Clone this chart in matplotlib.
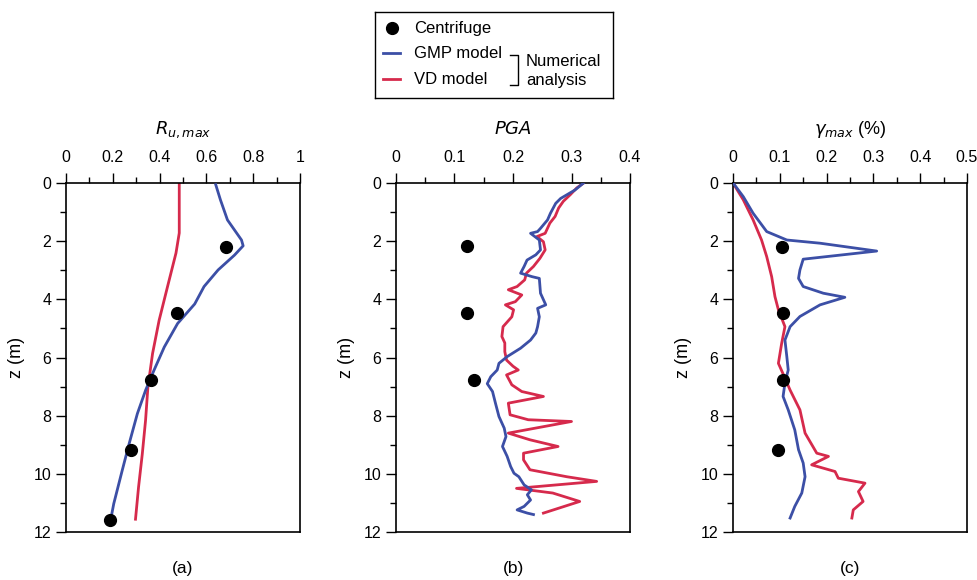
import matplotlib
matplotlib.use("Agg")
import matplotlib.pyplot as plt
from matplotlib.ticker import MultipleLocator

plt.rcParams['font.family'] = ['Liberation Sans', 'DejaVu Sans']

BLUE = '#3c4fa6'
RED = '#d62a4c'

# ---------------- Panel (a): Ru,max ----------------
a_gmp_x = [0.64, 0.66, 0.69, 0.75, 0.757, 0.72, 0.65, 0.59, 0.55, 0.477, 0.42, 0.376, 0.34, 0.305, 0.27, 0.24, 0.204, 0.19]
a_gmp_z = [0.06, 0.58, 1.27, 1.96, 2.16, 2.48, 2.99, 3.56, 4.16, 4.83, 5.64, 6.44, 7.13, 7.93, 8.96, 9.89, 11.03, 11.62]
a_vd_x = [0.484, 0.484, 0.47, 0.434, 0.398, 0.37, 0.35, 0.34, 0.326, 0.31, 0.297]
a_vd_z = [0.01, 1.72, 2.41, 3.56, 4.72, 5.86, 7.02, 8.16, 9.32, 10.46, 11.56]
a_cf_x = [0.685, 0.474, 0.362, 0.276, 0.187]
a_cf_z = [2.19, 4.48, 6.77, 9.18, 11.58]

# ---------------- Panel (b): PGA ----------------
b_gmp_x = [0.320, 0.306, 0.2815, 0.273, 0.264, 0.259, 0.247, 0.242, 0.230, 0.245, 0.247, 0.239,
           0.224, 0.219, 0.213, 0.2325, 0.245, 0.247, 0.256, 0.242, 0.245, 0.242, 0.239, 0.230,
           0.213, 0.190, 0.176, 0.173, 0.162, 0.156, 0.165, 0.170, 0.176, 0.185, 0.188, 0.182,
           0.190, 0.196, 0.2017, 0.210, 0.219, 0.2315, 0.2245, 0.230, 0.219, 0.207, 0.2245, 0.235]
b_gmp_z = [0.01, 0.24, 0.53, 0.70, 1.04, 1.27, 1.56, 1.67, 1.73, 1.96, 2.30, 2.47,
           2.65, 2.87, 3.10, 3.22, 3.28, 3.79, 4.19, 4.31, 4.60, 4.94, 5.16, 5.40,
           5.68, 5.97, 6.20, 6.43, 6.66, 6.90, 7.17, 7.57, 8.03, 8.43, 8.72, 9.06,
           9.40, 9.75, 9.98, 10.10, 10.38, 10.55, 10.72, 10.90, 11.12, 11.24, 11.35, 11.40]
b_vd_x = [0.320, 0.309, 0.298, 0.286, 0.278, 0.272, 0.263, 0.255, 0.241, 0.252, 0.255, 0.246,
          0.235, 0.223, 0.220, 0.207, 0.192, 0.215, 0.204, 0.187, 0.201, 0.198, 0.183, 0.181,
          0.186, 0.186, 0.189, 0.200, 0.209, 0.189, 0.198, 0.215, 0.252, 0.192, 0.195, 0.226,
          0.300, 0.192, 0.229, 0.277, 0.218, 0.218, 0.229, 0.292, 0.343, 0.206, 0.268, 0.314, 0.252]
b_vd_z = [0.01, 0.17, 0.40, 0.63, 0.86, 1.15, 1.38, 1.73, 1.84, 2.02, 2.30, 2.59,
          2.87, 3.10, 3.33, 3.56, 3.67, 3.85, 4.08, 4.19, 4.36, 4.60, 4.94, 5.28,
          5.50, 5.80, 6.09, 6.30, 6.43, 6.60, 6.94, 7.17, 7.34, 7.57, 7.97, 8.14,
          8.20, 8.60, 8.83, 9.06, 9.29, 9.52, 9.86, 10.10, 10.26, 10.50, 10.66, 10.95, 11.35]
b_cf_x = [0.122, 0.121, 0.133]
b_cf_z = [2.16, 4.48, 6.77]

# ---------------- Panel (c): gamma_max ----------------
c_gmp_x = [0.0007, 0.022, 0.043, 0.072, 0.115, 0.186, 0.307, 0.150, 0.143, 0.140, 0.150, 0.193,
           0.239, 0.186, 0.143, 0.122, 0.111, 0.115, 0.118, 0.111, 0.107, 0.118, 0.132, 0.140,
           0.150, 0.154, 0.147, 0.132, 0.122]
c_gmp_z = [0.01, 0.47, 1.04, 1.67, 1.96, 2.07, 2.34, 2.62, 2.99, 3.28, 3.56, 3.79,
           3.93, 4.19, 4.59, 4.94, 5.40, 5.97, 6.43, 6.88, 7.34, 7.80, 8.49, 9.17,
           9.63, 10.10, 10.66, 11.12, 11.52]
c_vd_x = [0.0, 0.022, 0.043, 0.061, 0.072, 0.0826, 0.0897, 0.097, 0.111, 0.104, 0.097, 0.108,
          0.122, 0.143, 0.154, 0.179, 0.204, 0.168, 0.218, 0.225, 0.282, 0.268, 0.278, 0.257, 0.254]
c_vd_z = [0.0, 0.58, 1.27, 1.96, 2.53, 3.22, 3.91, 4.36, 4.94, 5.51, 6.20, 6.60,
          7.12, 7.80, 8.60, 9.29, 9.40, 9.69, 9.92, 10.15, 10.32, 10.61, 10.95, 11.24, 11.52]
c_cf_x = [0.104, 0.106, 0.106, 0.097]
c_cf_z = [2.19, 4.48, 6.77, 9.17]

panels = [
    dict(gx=a_gmp_x, gz=a_gmp_z, vx=a_vd_x, vz=a_vd_z, cx=a_cf_x, cz=a_cf_z,
         xmax=1.0, major=0.2, minor=0.1, title=r'$R_{u,max}$', label='(a)',
         ticklabels=['0', '0.2', '0.4', '0.6', '0.8', '1'], left=66),
    dict(gx=b_gmp_x, gz=b_gmp_z, vx=b_vd_x, vz=b_vd_z, cx=b_cf_x, cz=b_cf_z,
         xmax=0.4, major=0.1, minor=0.05, title=r'$PGA$', label='(b)',
         ticklabels=['0', '0.1', '0.2', '0.3', '0.4'], left=396),
    dict(gx=c_gmp_x, gz=c_gmp_z, vx=c_vd_x, vz=c_vd_z, cx=c_cf_x, cz=c_cf_z,
         xmax=0.5, major=0.1, minor=0.05, title=r'$\gamma_{max}$ (%)', label='(c)',
         ticklabels=['0', '0.1', '0.2', '0.3', '0.4', '0.5'], left=733),
]

W, H = 978, 580
fig = plt.figure(figsize=(W / 100, H / 100), dpi=100)

top_px, bot_px = 183, 532
for p in panels:
    ax = fig.add_axes([p['left'] / W, 1 - bot_px / H, 234 / W, (bot_px - top_px) / H])
    ax.plot(p['gx'], p['gz'], color=BLUE, lw=2.0, zorder=3)
    ax.plot(p['vx'], p['vz'], color=RED, lw=2.0, zorder=2)
    ax.plot(p['cx'], p['cz'], 'o', color='black', ms=8.5, zorder=4)
    ax.set_xlim(0, p['xmax'])
    ax.set_ylim(12, 0)
    ax.set_xticks([i * p['major'] for i in range(len(p['ticklabels']))])
    ax.set_xticklabels(p['ticklabels'])
    ax.xaxis.set_minor_locator(MultipleLocator(p['minor']))
    ax.yaxis.set_major_locator(MultipleLocator(2))
    ax.yaxis.set_minor_locator(MultipleLocator(1))
    ax.xaxis.tick_top()
    ax.tick_params(axis='both', which='major', direction='out', length=7, width=1.0,
                   labelsize=11.5, colors='black')
    ax.tick_params(axis='both', which='minor', direction='out', length=4, width=1.0)
    ax.tick_params(axis='x', which='major', pad=6)
    for s in ax.spines.values():
        s.set_linewidth(1.2)
    ax.set_ylabel('z (m)', fontsize=13, labelpad=6)
    ax.set_title(p['title'], fontsize=13, pad=35)
    ax.text(0.5, -0.105, p['label'], transform=ax.transAxes, ha='center', va='center',
            fontsize=12.5)

# ---------------- Legend box ----------------
lx0, lx1, ly0, ly1 = 375, 613, 12, 98
lg = fig.add_axes([lx0 / W, 1 - ly1 / H, (lx1 - lx0) / W, (ly1 - ly0) / H])
lg.set_xlim(lx0, lx1)
lg.set_ylim(ly1, ly0)
lg.set_xticks([])
lg.set_yticks([])
for s in lg.spines.values():
    s.set_linewidth(1.0)
lg.plot([392], [28], 'o', color='black', ms=8.5)
lg.plot([383, 400], [53, 53], color=BLUE, lw=2)
lg.plot([383, 400], [79, 79], color=RED, lw=2)
lg.text(414, 28, 'Centrifuge', va='center', ha='left', fontsize=12)
lg.text(414, 53, 'GMP model', va='center', ha='left', fontsize=12)
lg.text(414, 79, 'VD model', va='center', ha='left', fontsize=12)
lg.plot([510, 518, 518, 510], [55, 55, 85, 85], color='black', lw=1.0)
lg.text(526, 62, 'Numerical', va='center', ha='left', fontsize=12)
lg.text(526, 81, 'analysis', va='center', ha='left', fontsize=12)

fig.savefig('out.png', dpi=100)
